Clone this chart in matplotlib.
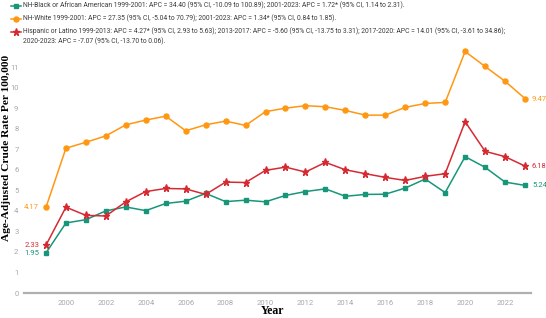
import matplotlib
matplotlib.use("Agg")
import matplotlib.pyplot as plt
from matplotlib.lines import Line2D

years = list(range(1999, 2024))

black_rate = [1.95, 3.41, 3.57, 4.00, 4.19, 4.01, 4.36, 4.47, 4.85, 4.45, 4.52, 4.44, 4.75,
              4.94, 5.07, 4.71, 4.80, 4.81, 5.11, 5.55, 4.89, 6.64, 6.12, 5.40, 5.24]
white_rate = [4.17, 7.05, 7.34, 7.65, 8.19, 8.42, 8.61, 7.90, 8.19, 8.37, 8.16, 8.83, 9.00,
              9.12, 9.07, 8.89, 8.66, 8.66, 9.04, 9.23, 9.28, 11.76, 11.03, 10.31, 9.47]
hisp_rate = [2.33, 4.18, 3.78, 3.75, 4.44, 4.94, 5.09, 5.07, 4.80, 5.40, 5.38, 5.97, 6.13,
             5.89, 6.36, 6.00, 5.81, 5.63, 5.48, 5.68, 5.81, 8.34, 6.90, 6.64, 6.18]

labels = [
    "NH-Black or African American 1999-2001: APC = 34.40 (95% CI, -10.09 to 100.89); 2001-2023: APC = 1.72* (95% CI, 1.14 to 2.31).",
    "NH-White 1999-2001: APC = 27.35 (95% CI, -5.04 to 70.79); 2001-2023: APC = 1.34* (95% CI, 0.84 to 1.85).",
    "Hispanic or Latino 1999-2013: APC = 4.27* (95% CI, 2.93 to 5.63); 2013-2017: APC = -5.60 (95% CI, -13.75 to 3.31); 2017-2020: APC = 14.01 (95% CI, -3.61 to 34.86);\n2020-2023: APC = -7.07 (95% CI, -13.70 to 0.06).",
]

green = "#17967a"
orange = "#ff9712"
red = "#d62a33"

plt.rcParams['font.family'] = ['Roboto', 'DejaVu Sans']

W, H = 546, 318
fig = plt.figure(figsize=(W / 100, H / 100), dpi=100)
ax = fig.add_axes([0.044, 0.0786, 0.9285, 0.775])

series = [
    (black_rate, green, "s", 3.2),
    (white_rate, orange, "o", 3.6),
    (hisp_rate, red, "*", 5.2),
]
for vals, col, mk, ms in series:
    ax.plot(years, vals, color=col, marker=mk, markersize=ms, linewidth=1.1)
    ax.text(years[0] - 0.35, vals[0], f"{vals[0]:.2f}", color=col, fontsize=5.5,
            ha="right", va="center")
    ax.text(years[-1] + 0.35, vals[-1], f"{vals[-1]:.2f}", color=col, fontsize=5.5,
            ha="left", va="center")

ax.set_xlim(1997.9, 2023.3)
ax.set_ylim(0, 12)
ax.set_xticks(range(2000, 2023, 2))
ax.set_yticks(range(0, 12))
ax.tick_params(axis="both", length=0, labelsize=5.5, labelcolor="#a8a8a8")
ax.tick_params(axis="y", pad=4)
ax.tick_params(axis="x", pad=5)
for s in ["top", "right", "left"]:
    ax.spines[s].set_visible(False)
ax.spines["bottom"].set_color("#b0b0b0")
ax.spines["bottom"].set_linewidth(1.6)

ax.set_ylabel("Age-Adjusted Crude Rate Per 100,000", family="Liberation Serif",
              fontweight="bold", fontsize=8.2)
ax.yaxis.set_label_coords(-0.025, 0.59)
ax.set_xlabel("Year", family="Liberation Serif", fontweight="bold", fontsize=8.5)
ax.xaxis.set_label_coords(0.49, -0.05)

# legend drawn by hand so the marker sits on the first line of a wrapped entry
rows_y = [6, 19, 32]
for (vals, col, mk, ms), lab, ry in zip(series, labels, rows_y):
    yf = 1 - ry / H
    fig.add_artist(Line2D([11 / W, 21 / W], [yf, yf], color=col, linewidth=1.1,
                          transform=fig.transFigure))
    fig.add_artist(Line2D([16 / W], [yf], color=col, marker=mk, markersize=ms,
                          transform=fig.transFigure))
    fig.text(23 / W, yf + 4.5 / H, lab, fontsize=4.85, color="#3a3a3a", ha="left", va="top",
             linespacing=1.35)

fig.savefig("out.png", dpi=100)
